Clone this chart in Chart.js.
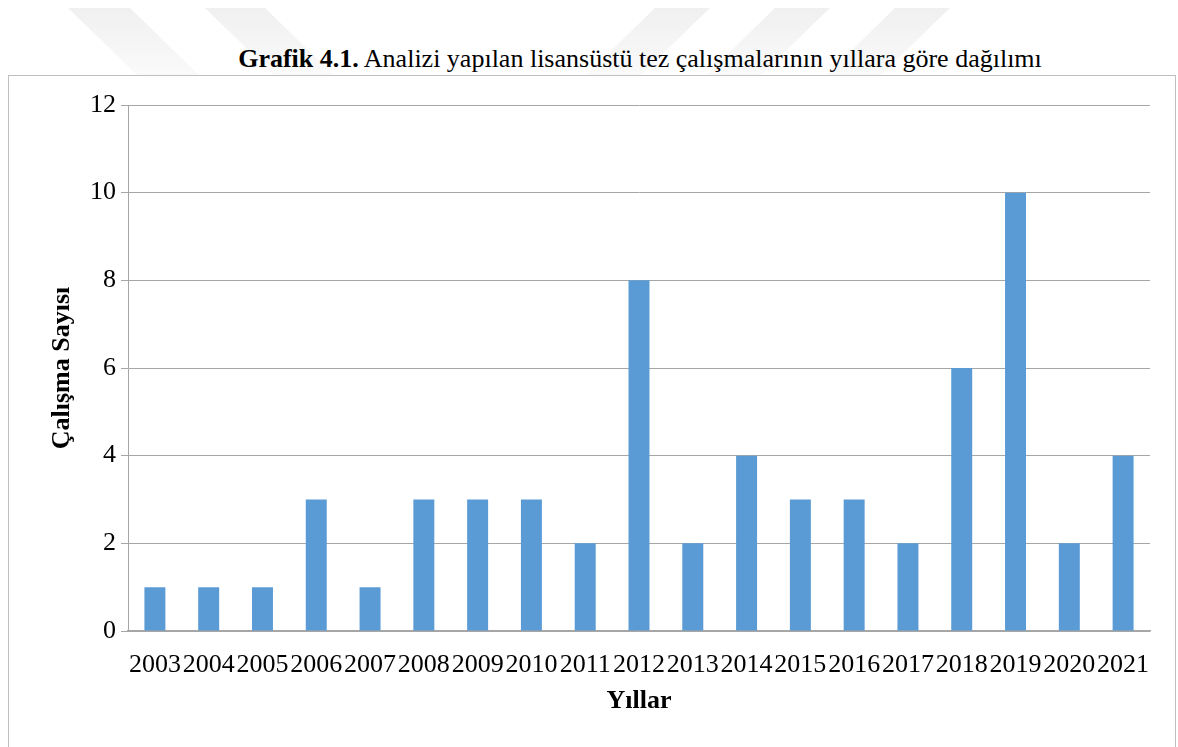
<!DOCTYPE html>
<html>
<head>
<meta charset="utf-8">
<script src="https://cdn.jsdelivr.net/npm/chart.js@4"></script>
<style>
  body { margin: 0; background: #fff; width: 1178px; height: 747px; overflow: hidden; position: relative; }
  #filigran { position: absolute; left: 0; top: 0; }
  #baslik { position: absolute; left: 0; width: 1280px; top: 44px; text-align: center; line-height: 30px;
            font-family: "Liberation Serif", "Times New Roman", serif; font-size: 26px; color: #000; }
  #kutu { position: absolute; left: 8px; top: 75px; width: 1166px; height: 690px; border: 1px solid #bfbfbf; }
</style>
</head>
<body>
<svg id="filigran" width="1178" height="80">
  <defs>
    <linearGradient id="sol" x1="0" y1="0" x2="0" y2="1">
      <stop offset="0" stop-color="#f0f0f0"/>
      <stop offset="1" stop-color="#fafafa"/>
    </linearGradient>
  </defs>
  <polygon points="68,8 130,8 200,76 138,76" fill="url(#sol)"/>
  <polygon points="205,8 265,8 335,76 275,76" fill="url(#sol)"/>
  <polygon points="655,8 710,8 640,76 585,76" fill="url(#sol)"/>
  <polygon points="775,8 830,8 760,76 705,76" fill="url(#sol)"/>
  <polygon points="895,8 950,8 880,76 825,76" fill="url(#sol)"/>
</svg>
<div id="baslik"><b>Grafik 4.1.</b> Analizi yapılan lisansüstü tez çalışmalarının yıllara göre dağılımı</div>
<div id="kutu"><canvas id="myChart" width="1166" height="671"></canvas></div>
<script>
const yillar = ['2003', '2004', '2005', '2006', '2007', '2008', '2009', '2010', '2011', '2012',
  '2013', '2014', '2015', '2016', '2017', '2018', '2019', '2020', '2021']
const calismaSayisi = [1, 1, 1, 3, 1, 3, 3, 3, 2, 8, 2, 4, 3, 3, 2, 6, 10, 2, 4]
const yMin = 0
const yMax = 12
const yAdim = 2

const yazi = "'Liberation Serif', 'Times New Roman', serif"

const ctx = document.getElementById('myChart').getContext('2d')

new Chart(ctx, {
    type: 'bar',
    data: {
        labels: yillar,
        datasets: [{
            label: 'Çalışma Sayısı',
            data: calismaSayisi,
            backgroundColor: '#5b9bd5',
            barPercentage: 0.39,
            categoryPercentage: 1
        }]
    },
    options: {
        responsive: false,
        animation: false,
        layout: { padding: { top: 29, right: 25, bottom: 0, left: 0 } },
        plugins: {
            legend: { display: false },
            tooltip: { enabled: false }
        },
        scales: {
            x: {
                grid: { display: false, drawTicks: false },
                border: { display: true, color: '#a6a6a6', width: 1.5 },
                ticks: { color: '#000', font: { family: yazi, size: 26 }, padding: 19, maxRotation: 0, autoSkip: false },
                title: { display: true, text: 'Yıllar', color: '#000', font: { family: yazi, size: 26, weight: 'bold' }, padding: 30 },
                afterFit: function (scale) { scale.height = 116 }
            },
            y: {
                min: yMin,
                max: yMax,
                grid: { color: '#a6a6a6', tickLength: 7, lineWidth: 1 },
                border: { display: true, color: '#a6a6a6', width: 1 },
                ticks: { stepSize: yAdim, color: '#000', font: { family: yazi, size: 26 }, padding: 5 },
                title: { display: true, text: 'Çalışma Sayısı', color: '#000', font: { family: yazi, size: 26, weight: 'bold' }, padding: 38 },
                afterFit: function (scale) { scale.width = 119 }
            }
        }
    }
});
</script>
</body>
</html>
